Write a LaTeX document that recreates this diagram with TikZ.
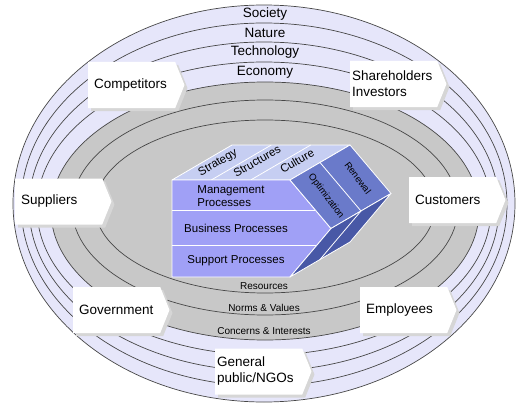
\documentclass[tikz,border=0pt]{standalone}
\usepackage{fontspec}
\setmainfont{Liberation Sans}
\usetikzlibrary{shapes.symbols,shadows}
\definecolor{ringlav}{RGB}{230,230,250}
\definecolor{ringgray}{RGB}{200,200,200}
\definecolor{topface}{RGB}{198,206,242}
\definecolor{frontface}{RGB}{160,160,246}
\definecolor{sideface}{RGB}{106,122,202}
\definecolor{underface}{RGB}{72,88,166}

\begin{document}
\begin{tikzpicture}[x=1pt,y=-1pt,
      rg/.style={draw=black!72, line width=0.7pt},
      lv/.style={rg, fill=ringlav},
      gy/.style={rg, fill=ringgray},
      bd/.style={font=\fontsize{13.5}{15}\selectfont},
      sm/.style={font=\fontsize{10}{12}\selectfont},
      pr/.style={font=\fontsize{11.5}{13}\selectfont, align=left},
      tp/.style={font=\fontsize{11.5}{12}\selectfont, rotate=30, inner sep=1pt},
      sd/.style={font=\fontsize{9.5}{11}\selectfont, rotate=-53, inner sep=1pt},
      fc/.style={draw=white, line width=0.8pt, line join=round},
      party/.style={signal, signal to=east, signal pointer angle=136, fill=white,
        minimum height=46pt, text width=75pt, inner xsep=6pt, align=left,
        anchor=west, font=\fontsize{13.5}{16}\selectfont,
        drop shadow={shadow xshift=3pt, shadow yshift=-3pt, fill=black!16, opacity=1}},
      partyb/.style={party, text width=83pt, inner xsep=2pt}
      ]
      \useasboundingbox (0,0) rectangle (530,412);
      % outer rings
      \draw[lv] (264,203.5) ellipse [x radius=251, y radius=198.5];
      \draw[lv] (264,204.5) ellipse [x radius=243, y radius=181.5];
      \draw[lv] (264,206.5) ellipse [x radius=235, y radius=164.5];
      \draw[lv] (264,208.5) ellipse [x radius=227, y radius=146.5];
      % inner rings
      \draw[gy] (265,211) ellipse [x radius=214, y radius=129];
      \draw[gy] (265,207.5) ellipse [x radius=193, y radius=107.5];
      \draw[gy] (265,206.5) ellipse [x radius=170, y radius=86.5];
      \node[bd] (soc)  at (265,14) {Society};
      \node[bd] (nat)  at (265,33) {Nature};
      \node[bd] (tech) at (265,52) {Technology};
      \node[bd] (eco)  at (265,72) {Economy};
      \node[sm] (res)  at (264,286.5) {Resources};
      \node[sm] (norm) at (264,307.5) {Norms \& Values};
      \node[sm] (conc) at (264,331) {Concerns \& Interests};
      % process block
      \filldraw[fc, fill=topface] (172,180) -- (290,180) -- (350,145) -- (232,145) -- cycle;
      \draw[fc] (211.3,180) -- (271.3,145) (250.7,180) -- (310.7,145);
      \filldraw[fc, fill=frontface] (172,180) -- (290,180) -- (331,228.5) -- (290,277) -- (172,277) -- cycle;
      \draw[fc] (172,210) -- (315.4,210) (172,245) -- (317,245);
      \filldraw[fc, fill=sideface] (290,180) -- (331,228.5) -- (391,193.5) -- (350,145) -- cycle;
      \draw[fc] (320,162.5) -- (361,211);
      \filldraw[fc, fill=underface] (331,228.5) -- (290,277) -- (350,242) -- (391,193.5) -- cycle;
      \draw[fc] (361,211) -- (320,259.5);
      \node[tp] (strat) at (218,163) {Strategy};
      \node[tp] (struc) at (257,161) {Structures};
      \node[tp] (cult)  at (297,161) {Culture};
      \node[pr] (mgmt)  at (231,196.5) {Management\\Processes};
      \node[pr] (busi)  at (236,228) {Business Processes};
      \node[pr] (supp)  at (236,261) {Support Processes};
      \node[sd] (opt)   at (326,196) {Optimization};
      \node[sd] (ren)   at (358,178) {Renewal};
      % stakeholders
      \node[party]  (comp) at (88,85)    {Competitors};
      \node[partyb] (share) at (350,84)  {Shareholders\\Investors};
      \node[party]  (supl) at (15,201.5) {Suppliers};
      \node[party]  (cust) at (409,200)  {Customers};
      \node[party]  (gov)  at (73,310)   {Government};
      \node[party]  (empl) at (360,310)  {Employees};
      \node[partyb] (gen)  at (215,371.5) {General\\public/NGOs};
\end{tikzpicture}
\end{document}
